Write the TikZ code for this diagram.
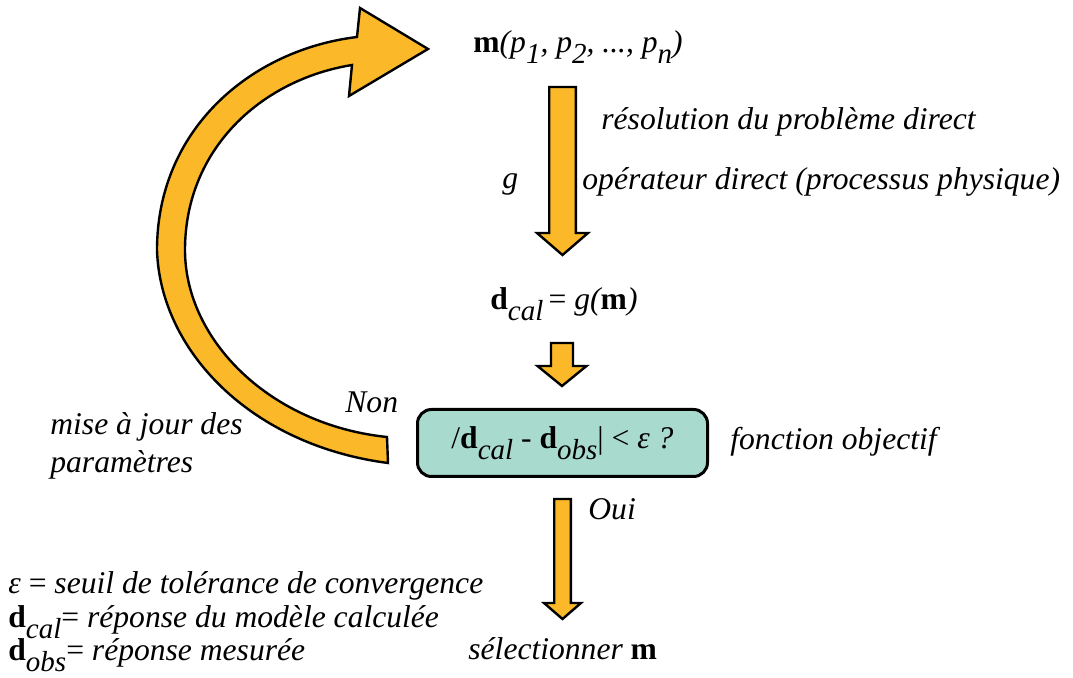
\documentclass[tikz,border=0pt]{standalone}
\usepackage{fontspec}
\setmainfont{Liberation Serif}[ItalicFont={Liberation Serif Italic}, BoldFont={Liberation Serif Bold}, BoldItalicFont={Liberation Serif Bold Italic}]
\usetikzlibrary{calc}

\definecolor{arrowgold}{RGB}{251,185,41}
\definecolor{testteal}{RGB}{168,219,205}

\newcommand{\bvec}[1]{\textbf{\upshape #1}}
\newcommand{\lowsub}[1]{\raisebox{-0.34em}{\fontsize{14.5}{14.5}\selectfont\itshape #1}}
% start, end, half shaft, half head, head length
\newcommand{\downblock}[5]{%
  \draw[blockarrow] ($(#1)+(-#3,0)$) -- ($(#2)+(-#3,-#5)$) -- ($(#2)+(-#4,-#5)$)
    -- (#2) -- ($(#2)+(#4,-#5)$) -- ($(#2)+(#3,-#5)$) -- ($(#1)+(#3,0)$) -- cycle;}

\tikzset{
  txt/.style={inner sep=0pt, anchor=base west, font=\fontsize{15.8}{19}\selectfont\itshape},
  blockarrow/.style={draw=black, line width=1.2pt, fill=arrowgold, line join=miter},
  testbox/.style={draw=black, line width=1.5pt, fill=testteal, rounded corners=7pt,
    minimum width=145pt, minimum height=33.5pt, inner sep=0pt,
    font=\fontsize{15.8}{19}\selectfont\itshape}
}

\begin{document}
\begin{tikzpicture}[x=0.5pt, y=-0.5pt]
  \useasboundingbox (0,0) rectangle (1073,678);

  % loop back: mise a jour
  \draw[blockarrow] (388,463) .. controls (250,445) and (160,350) .. (157,250)
    .. controls (157,130) and (250,50) .. (357,37) -- (360,8) -- (428,49) -- (349,96)
    -- (352,65) .. controls (260,80) and (185,150) .. (185,250)
    .. controls (185,340) and (270,425) .. (387,437) -- cycle;

  \node[txt] (params) at (473,53) {\bvec{m}(p\lowsub{1}, p\lowsub{2}, ..., p\lowsub{n})};
  \node[txt] (direct) at (601,130) {résolution du problème direct};
  \node[txt] (gop) at (502,189) {g};
  \node[txt] (operator) at (582,190) {opérateur direct (processus physique)};
  \node[txt] (dcal) at (490,310) {\bvec{d}\lowsub{cal}{\upshape\,=} g(\bvec{m})};
  \node[testbox] (test) at (562.5,443) {{\upshape /}\bvec{d}\lowsub{cal}{\upshape\ - }\bvec{d}\lowsub{obs}{\upshape| <} ε ?};
  \node[txt] (objfun) at (730,450) {fonction objectif};
  \node[txt] (non) at (345,413) {Non};
  \node[txt] (update1) at (50,435) {mise à jour des};
  \node[txt] (update2) at (50,473) {paramètres};
  \node[txt] (oui) at (588,520) {Oui};
  \node[txt] (select) at (468,660) {sélectionner \bvec{m}};

  % legende
  \node[txt] (leg1) at (8,594) {ε {\upshape =} seuil de tolérance de convergence};
  \node[txt] (leg2) at (8,628) {\bvec{d}\lowsub{cal}{\upshape =} réponse du modèle calculée};
  \node[txt] (leg3) at (8,661) {\bvec{d}\lowsub{obs}{\upshape =} réponse mesurée};

  % fleches
  \coordinate (a1s) at (562.5,87);  \coordinate (a1e) at (562.5,255);
  \coordinate (a2s) at (562,343);   \coordinate (a2e) at (562,386);
  \coordinate (a3s) at (562.5,499); \coordinate (a3e) at (562.5,619);
  \downblock{a1s}{a1e}{13.3}{25.5}{22}
  \downblock{a2s}{a2e}{11}{24.5}{20}
  \downblock{a3s}{a3e}{8.3}{18.5}{16}
\end{tikzpicture}
\end{document}
